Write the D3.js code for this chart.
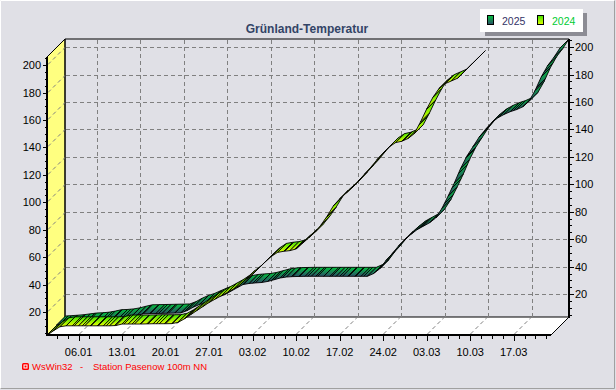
<!DOCTYPE html>
<html>
<head>
<meta charset="utf-8">
<script src="https://cdn.jsdelivr.net/npm/d3@7"></script>
<style>
  body { margin: 0; background: #fff; }
  svg { display: block; font-family: "Liberation Sans", Arial, sans-serif; }
</style>
</head>
<body>
<script>
// Data: Grünland-Temperatursumme, daily values starting 1 January
const startDay = "2025-01-01";
const values2025 = [
  4.0, 4.3, 4.6, 5.0, 5.6, 6.2, 6.4, 6.8, 7.6, 8.6,
  8.8, 9.2, 10.0, 11.2, 12.2, 12.3, 12.4, 12.5, 12.6, 12.7,
  12.8, 14.5, 17.0, 19.0, 20.5, 22.5, 24.5, 26.0, 28.5, 31.0,
  33.5, 34.3, 34.7, 35.0, 35.8, 37.0, 38.3, 39.0, 39.3, 39.4,
  39.5, 39.5, 39.5, 39.5, 39.5, 39.5, 39.5, 39.5, 39.5, 39.5,
  39.5, 41.5, 45.0, 51.0, 56.0, 61.5, 66.0, 70.0, 73.5, 76.0,
  78.5, 82.0, 89.0, 98.0, 107.5, 118.0, 127.0, 134.0, 141.0, 146.5,
  151.5, 155.0, 157.5, 159.5, 161.0, 163.0, 167.0, 175.0, 185.0, 193.0,
  199.0, 205.9
];
const values2024 = [
  3.3, 6.5, 9.3, 10.0, 10.0, 10.0, 10.0, 10.0, 10.0, 10.0,
  10.0, 10.2, 11.3, 11.3, 11.3, 11.3, 11.4, 11.5, 11.5, 11.5,
  11.6, 12.5, 15.0, 18.0, 21.0, 24.0, 27.0, 29.5, 32.0, 34.5,
  37.0, 40.0, 44.0, 47.5, 52.0, 56.5, 60.5, 63.5, 64.3, 64.8,
  66.0, 70.0, 74.0, 78.0, 83.5, 90.0, 97.5, 102.5, 106.5, 110.5,
  115.5, 120.5, 125.5, 131.0, 136.0, 140.5, 143.5, 144.5, 146.5, 150.0,
  158.5, 168.0, 176.5, 183.0, 186.5, 188.5, 190.5, 195.0, 199.5, 204.0
];
const weekTicks = ["2025-01-06", "2025-01-13", "2025-01-20", "2025-01-27", "2025-02-03",
  "2025-02-10", "2025-02-17", "2025-02-24", "2025-03-03", "2025-03-10", "2025-03-17"];
const yTicks = [20, 40, 60, 80, 100, 120, 140, 160, 180, 200];
const seriesNames = ["2025", "2024"];

const title = "Grünland-Temperatur";
const footer = "Station Pasenow 100m NN";

// Layout
const width = 616, height = 390;
const depth = 18;          // 3D depth in px
const plotLeft = 47, plotRight = 551, plotTop = 57, plotBottom = 335;

const parse = d3.timeParse("%Y-%m-%d");
const day0 = parse(startDay);
const lastDay = d3.timeDay.offset(day0, values2025.length - 1);

const x = d3.scaleTime().domain([day0, lastDay]).range([plotLeft + 0.5, plotRight]);
const y = d3.scaleLinear()
  .domain([d3.min(values2024.concat(values2025)), d3.max(values2024.concat(values2025))])
  .range([plotBottom, plotTop]);

const fmt = d3.timeFormat("%d.%m");

const svg = d3.select("body").append("svg")
  .attr("width", width)
  .attr("height", height);

const defs = svg.append("defs");

function gradient(id, c0, c1) {
  const g = defs.append("linearGradient").attr("id", id)
    .attr("x1", 0).attr("y1", 0).attr("x2", 0).attr("y2", 1);
  g.append("stop").attr("offset", 0).attr("stop-color", c0);
  g.append("stop").attr("offset", 1).attr("stop-color", c1);
}
gradient("g2025", "#00c23c", "#2c4c68");
gradient("g2024", "#3ce000", "#e4ff00");

const hatch = defs.append("pattern").attr("id", "hatch")
  .attr("patternUnits", "userSpaceOnUse")
  .attr("width", 8).attr("height", 8);
hatch.append("path")
  .attr("d", "M0,8 L8,0 M-2,2 L2,-2 M6,10 L10,6")
  .attr("stroke", "#000").attr("stroke-width", 0.9);

// Background and frame
svg.append("rect").attr("width", width).attr("height", height).attr("fill", "#e0e0e6");
svg.append("path").attr("d", `M0.5,${height - 1} V0.5 H${width - 1}`)
  .attr("fill", "none").attr("stroke", "#fff");
svg.append("path").attr("d", `M0.5,${height - 1.5} H${width - 1.5} V0.5`)
  .attr("fill", "none").attr("stroke", "#a0a0a0");

// Walls
svg.append("polygon")
  .attr("points", [[plotLeft, plotTop], [plotLeft + depth, plotTop - depth], [plotLeft + depth, plotBottom - depth], [plotLeft, plotBottom]].join(" "))
  .attr("fill", "#ffff80").attr("stroke", "#000");
svg.append("polygon")
  .attr("points", [[plotLeft, plotBottom], [plotLeft + depth, plotBottom - depth], [plotRight + depth, plotBottom - depth], [plotRight, plotBottom]].join(" "))
  .attr("fill", "#fff").attr("stroke", "#000");
svg.append("path")
  .attr("d", `M${plotLeft + depth},${plotBottom - depth} V${plotTop - depth} H${plotRight + depth}`)
  .attr("fill", "none").attr("stroke", "#000");

// Grid
const grid = svg.append("g").attr("stroke", "#808080").attr("stroke-dasharray", "4,3").attr("fill", "none");
yTicks.forEach(v => {
  const yy = Math.round(y(v)) + 0.5;
  grid.append("line").attr("x1", plotLeft + depth + 1).attr("x2", plotRight + depth)
    .attr("y1", yy - depth).attr("y2", yy - depth);
  grid.append("line").attr("x1", plotLeft + 1).attr("x2", plotLeft + depth)
    .attr("y1", yy - 1).attr("y2", yy - depth);
});
weekTicks.forEach(t => {
  const xx = Math.round(x(parse(t))) + 0.5;
  grid.append("line").attr("x1", xx + depth).attr("x2", xx + depth)
    .attr("y1", plotTop - depth + 1).attr("y2", plotBottom - depth);
  grid.append("line").attr("x1", xx).attr("x2", xx + depth - 1)
    .attr("y1", plotBottom - 1).attr("y2", plotBottom - depth);
});

// Series ribbons
function ribbon(values, z0, z1, fillId) {
  const g = svg.append("g");
  const pts = values.map((v, i) => [x(d3.timeDay.offset(day0, i)), y(v)]);
  for (let i = 0; i < pts.length - 1; i++) {
    const a = pts[i], b = pts[i + 1];
    const poly = [
      [a[0] + z0, a[1] - z0], [b[0] + z0, b[1] - z0],
      [b[0] + z1, b[1] - z1], [a[0] + z1, a[1] - z1]
    ].join(" ");
    g.append("polygon").attr("points", poly).attr("fill", `url(#${fillId})`);
    g.append("polygon").attr("points", poly).attr("fill", "url(#hatch)")
      .attr("stroke", "#000").attr("stroke-width", 0.9).attr("stroke-linejoin", "round");
  }
}
ribbon(values2025, depth / 2, depth, "g2025");
ribbon(values2024, 0, depth / 2, "g2024");

// Axes lines
svg.append("line").attr("x1", plotLeft).attr("x2", plotLeft).attr("y1", plotTop).attr("y2", plotBottom + 1)
  .attr("stroke", "#000").attr("stroke-width", 2);
svg.append("line").attr("x1", plotLeft).attr("x2", plotRight).attr("y1", plotBottom).attr("y2", plotBottom)
  .attr("stroke", "#000").attr("stroke-width", 2);
svg.append("line").attr("x1", plotRight + depth).attr("x2", plotRight + depth)
  .attr("y1", plotTop - depth).attr("y2", plotBottom - depth + 1)
  .attr("stroke", "#000").attr("stroke-width", 2);

// Y axis ticks and labels (left front, right back)
const minorY = d3.range(5, 206, 5);
const axes = svg.append("g").attr("stroke", "#000").attr("stroke-width", 1);
minorY.forEach(v => {
  const yy = Math.round(y(v)) + 0.5;
  if (yy < plotTop || yy > plotBottom) return;
  const major = yTicks.includes(v);
  axes.append("line").attr("x1", plotLeft - (major ? 4 : 2)).attr("x2", plotLeft - 1).attr("y1", yy).attr("y2", yy);
  axes.append("line").attr("x1", plotRight + depth + 1).attr("x2", plotRight + depth + (major ? 5 : 3))
    .attr("y1", yy - depth).attr("y2", yy - depth);
});
svg.append("g").selectAll("text").data(yTicks).join("text")
  .attr("x", plotLeft - 6).attr("y", d => y(d) + 4)
  .attr("text-anchor", "end").attr("font-size", 11).attr("fill", "#000")
  .text(d => d);
svg.append("g").selectAll("text").data(yTicks).join("text")
  .attr("x", plotRight + depth + 6).attr("y", d => y(d) - depth + 4)
  .attr("font-size", 11).attr("fill", "#000")
  .text(d => d);

// X axis ticks and labels
const pxPerDay = x(d3.timeDay.offset(day0, 1)) - x(day0);
const firstTick = x(parse(weekTicks[0]));
for (let k = -3; k < 4 * weekTicks.length + 2; k++) {
  const xx = Math.round(firstTick + k * pxPerDay * 7 / 4) + 0.5;
  if (xx <= plotLeft + 1 || xx > plotRight) continue;
  const major = k % 4 === 0;
  axes.append("line").attr("x1", xx).attr("x2", xx)
    .attr("y1", plotBottom + 1).attr("y2", plotBottom + (major ? 6 : 4));
}
svg.append("g").selectAll("text").data(weekTicks).join("text")
  .attr("x", d => x(parse(d))).attr("y", 356)
  .attr("text-anchor", "middle").attr("font-size", 11).attr("fill", "#000")
  .text(d => fmt(parse(d)));

// Title
svg.append("text").attr("x", 307).attr("y", 33)
  .attr("text-anchor", "middle").attr("font-size", 12).attr("font-weight", "bold")
  .attr("fill", "#334466").text(title);

// Legend
const legend = svg.append("g");
legend.append("rect").attr("x", 485).attr("y", 13).attr("width", 102).attr("height", 23).attr("fill", "#8c8c94");
legend.append("rect").attr("x", 480).attr("y", 9).attr("width", 103).attr("height", 23).attr("fill", "#fff");
const legendColors = ["#333366", "#00cc33"];
const legendFill = ["g2025", "g2024"];
seriesNames.forEach((name, i) => {
  const lx = 487 + i * 50;
  legend.append("rect").attr("x", lx + 0.5).attr("y", 15.5).attr("width", 6).attr("height", 9)
    .attr("fill", `url(#${legendFill[i]})`).attr("stroke", "#000");
  legend.append("text").attr("x", lx + 15).attr("y", 25)
    .attr("font-size", 10.5).attr("fill", legendColors[i]).text(name);
});

// Footer
const foot = svg.append("g").attr("fill", "#ff0000").attr("font-size", 9.5);
foot.append("rect").attr("x", 22).attr("y", 363).attr("width", 7).attr("height", 7).attr("rx", 1.5).attr("fill", "#ff0000");
foot.append("rect").attr("x", 23.5).attr("y", 364.5).attr("width", 4).attr("height", 4).attr("fill", "#fff");
foot.append("rect").attr("x", 24.5).attr("y", 365.5).attr("width", 2).attr("height", 2).attr("fill", "#ff0000");
foot.append("text").attr("x", 32).attr("y", 370).text("WsWin32");
foot.append("text").attr("x", 80).attr("y", 370).text("-");
foot.append("text").attr("x", 93).attr("y", 370).text(footer);
</script>
</body>
</html>
